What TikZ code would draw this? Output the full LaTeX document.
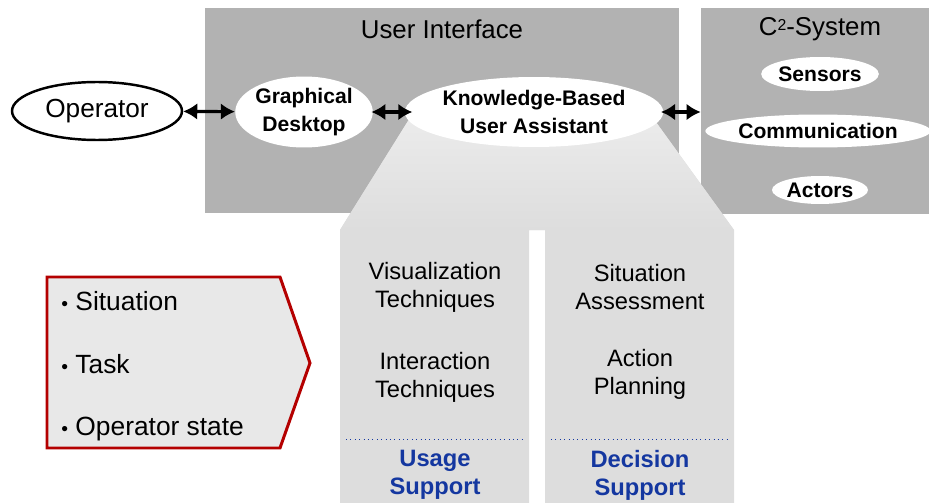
\documentclass[tikz,border=0pt]{standalone}
\usepackage{fontspec}
\setmainfont{Liberation Sans}
\usetikzlibrary{positioning}
\usetikzlibrary{shapes.geometric}
\usetikzlibrary{arrows.meta}

\definecolor{boxgray}{RGB}{178,178,178}
\definecolor{funnelgray}{RGB}{221,221,221}
\definecolor{funnellight}{RGB}{236,236,236}
\definecolor{chevrongray}{RGB}{232,232,232}
\definecolor{chevronred}{RGB}{180,0,0}
\definecolor{supportblue}{RGB}{20,55,160}

\begin{document}
\begin{tikzpicture}[x=0.02cm, y=-0.02cm,
        bubble/.style={ellipse, fill=white, inner sep=0pt, align=center, font=\fontsize{12}{15.5}\selectfont\bfseries},
        link/.style={{Latex[length=8pt,width=9.5pt]}-{Latex[length=8pt,width=9.5pt]}, line width=1.8pt},
        coltext/.style={align=center, font=\fontsize{13.5}{16}\selectfont},
        support/.style={align=center, text=supportblue, font=\fontsize{13.5}{16}\selectfont\bfseries},
        bullet/.style={anchor=base west, inner sep=0pt, font=\fontsize{15}{18}\selectfont}]

        \useasboundingbox (0,0) rectangle (929,503);

        \node[fill=boxgray, minimum width=9.48cm, minimum height=4.1cm, inner sep=0pt] (uibox) at (442,110.5) {};
        \node[fill=boxgray, minimum width=4.56cm, minimum height=4.12cm, inner sep=0pt] (c2box) at (815,111) {};
        \node[font=\fontsize{14.7}{17}\selectfont] (uititle) at (442,29) {User Interface};
        \node[font=\fontsize{14.7}{17}\selectfont] (c2title) at (820,29) {C{\fontsize{9}{9}\selectfont\raisebox{0.55ex}{2}}-System};

        \fill[funnelgray] (413,113) -- (340,230) -- (340,503) -- (529,503) -- (529,230) -- (545,230)
            -- (545,503) -- (734,503) -- (734,230) -- (653,118) -- cycle;
        \shade[top color=funnellight, bottom color=funnelgray] (413,113) -- (340,230) -- (734,230) -- (653,118) -- cycle;

        \node[ellipse, draw, line width=1.4pt, fill=white, minimum width=3.4cm, minimum height=1.16cm,
            font=\fontsize{14.9}{17}\selectfont] (operator) at (97,111) {Operator};
        \node[bubble, minimum width=2.72cm, minimum height=1.42cm] (desktop) at (304,112) {Graphical\\Desktop};
        \node[bubble, minimum width=5.04cm, minimum height=1.4cm] (assistant) at (534,112) {Knowledge-Based\\User Assistant};
        \node[bubble, minimum width=2.32cm, minimum height=0.68cm] (sensors) at (820,74) {Sensors};
        \node[bubble, minimum width=4.4cm, minimum height=0.66cm] (communication) at (818,131) {Communication};
        \node[bubble, minimum width=1.92cm, minimum height=0.56cm] (actors) at (820,190) {Actors};

        \draw[link] (operator) -- (desktop);
        \draw[link, shorten <=-1pt, shorten >=-4.5pt] (desktop) -- (assistant);
        \draw[link, shorten <=-1.5pt] (assistant.east) -- (assistant.east -| c2box.west);

        \node[coltext] (visualization) at (435,287) {Visualization\\Techniques};
        \node[coltext, below=0.55cm of visualization] (interaction) {Interaction\\Techniques};
        \node[coltext] (assessment) at (640,287) {Situation\\Assessment};
        \node[coltext, below=0.55cm of assessment] (planning) {Action\\Planning};

        \draw[supportblue, dotted, line width=0.5pt] (346,439) -- (523,439);
        \draw[supportblue, dotted, line width=0.5pt] (551,439) -- (728,439);
        \node[support] (usage) at (435,475) {Usage\\Support};
        \node[support] (decision) at (640,475) {Decision\\Support};

        \draw[chevronred, fill=chevrongray, line width=1.7pt] (47,277) -- (280,277) -- (310,363) -- (280,448) -- (47,448) -- cycle;
        \node[bullet] (situation) at (61,310) {{\fontsize{11}{11}\selectfont\textbullet}\ Situation};
        \node[bullet] (task) at (61,373) {{\fontsize{11}{11}\selectfont\textbullet}\ Task};
        \node[bullet] (opstate) at (61,435) {{\fontsize{11}{11}\selectfont\textbullet}\ Operator state};

    \end{tikzpicture}
\end{document}
